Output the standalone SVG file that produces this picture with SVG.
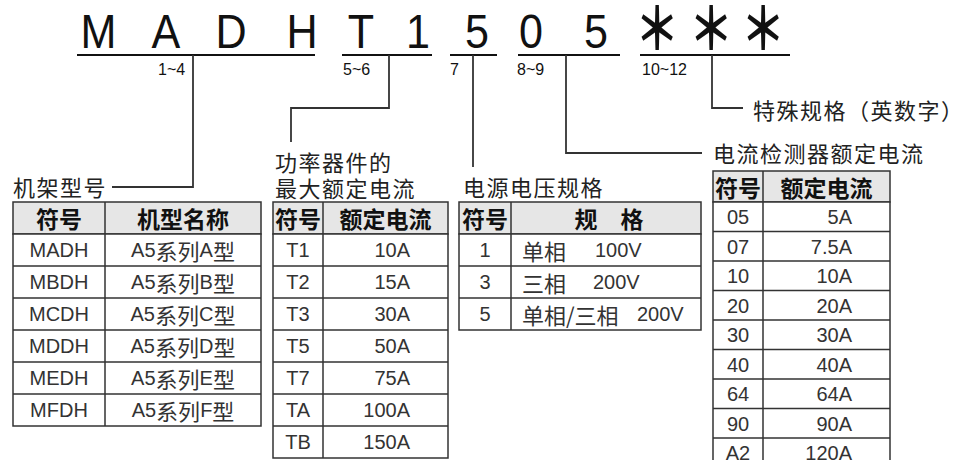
<svg xmlns="http://www.w3.org/2000/svg" width="958" height="460" viewBox="0 0 958 460">
<style>
.big{font-family:"Liberation Sans",Arial,sans-serif;font-size:49px;fill:#111;text-anchor:middle}
.ast{font-family:"Noto Sans CJK SC",sans-serif;font-size:52px;font-weight:bold;fill:#111;text-anchor:middle}
.pos{font-family:"Liberation Sans",Arial,sans-serif;font-size:16px;fill:#111}
.lbl{font-family:"Noto Sans CJK SC","Noto Sans",sans-serif;font-size:22px;letter-spacing:1.5px;fill:#222}
.ul{stroke:#111;stroke-width:2;fill:none}
.con{stroke:#333;stroke-width:1.8;fill:none}
.cell{fill:#fff;stroke:#333;stroke-width:1.5}
.hdr{fill:#e6e6e6;stroke:#333;stroke-width:1.5}
.ln{stroke:#333;stroke-width:1.5}
.th{font-family:"Noto Sans CJK SC",sans-serif;font-size:23px;font-weight:bold;fill:#111;text-anchor:middle;dominant-baseline:central}
.td{font-family:"Liberation Sans","Noto Sans CJK SC",sans-serif;font-size:20px;fill:#333;text-anchor:middle;dominant-baseline:central}
.tdr{font-family:"Liberation Sans","Noto Sans CJK SC",sans-serif;font-size:20px;fill:#333;text-anchor:end;dominant-baseline:central}
.tdl{font-family:"Liberation Sans","Noto Sans CJK SC",sans-serif;font-size:20px;fill:#333;dominant-baseline:central}
.cjk{font-family:"Noto Sans CJK SC",sans-serif;font-size:22px}
</style>

<g id="title">
<text class="big" transform="translate(98.5 48) scale(0.88 1)">M</text>
<text class="big" transform="translate(166 48) scale(0.88 1)">A</text>
<text class="big" transform="translate(231 48) scale(0.88 1)">D</text>
<text class="big" transform="translate(302 48) scale(0.88 1)">H</text>
<text class="big" transform="translate(361 48) scale(0.88 1)">T</text>
<text class="big" transform="translate(418 48) scale(0.88 1)">1</text>
<text class="big" transform="translate(477 48) scale(0.88 1)">5</text>
<text class="big" transform="translate(531 48) scale(0.88 1)">0</text>
<text class="big" transform="translate(596 48) scale(0.88 1)">5</text>
<text class="ast" transform="translate(657 49.5) scale(0.85 1.12)">＊</text>
<text class="ast" transform="translate(711 49.5) scale(0.85 1.12)">＊</text>
<text class="ast" transform="translate(763 49.5) scale(0.85 1.12)">＊</text>
<path class="ul" d="M77 55H315M342 55H432M450 55H497M518 55H620M640 55H790"/>
<text class="pos" x="158" y="75">1~4</text>
<text class="pos" x="343" y="75">5~6</text>
<text class="pos" x="450" y="75">7</text>
<text class="pos" x="517" y="75">8~9</text>
<text class="pos" x="642" y="75">10~12</text>
</g>

<g id="connectors">
<path class="con" d="M193 55V187H112"/>
<path class="con" d="M389 55V108H291V142"/>
<path class="con" d="M473 55V167"/>
<path class="con" d="M566 55V153H702"/>
<path class="con" d="M712 55V108H743"/>
</g>

<g id="label-frame"><text class="lbl" x="13" y="195.5">机架型号</text></g>
<g id="label-power"><text class="lbl" x="275" y="170.5">功率器件的</text><text class="lbl" x="275" y="196.5">最大额定电流</text></g>
<g id="label-voltage"><text class="lbl" x="463" y="195.5">电源电压规格</text></g>
<g id="label-sensor"><text class="lbl" x="713" y="161.5">电流检测器额定电流</text></g>
<g id="label-special"><text class="lbl" x="753" y="118.5">特殊规格（英数字）</text></g>

<g id="table-frame">
<rect class="hdr" x="13" y="202" width="248" height="32"/>
<rect class="cell" x="13" y="234" width="248" height="192"/>
<path class="ln" d="M105 202V426M13 266H261M13 298H261M13 330H261M13 362H261M13 394H261"/>
<text class="th" x="59" y="218">符号</text>
<text class="th" x="183" y="218">机型名称</text>
<text class="td" x="59" y="250">MADH</text><text class="td" x="183" y="250">A5<tspan class="cjk">系列</tspan>A<tspan class="cjk">型</tspan></text>
<text class="td" x="59" y="282">MBDH</text><text class="td" x="183" y="282">A5<tspan class="cjk">系列</tspan>B<tspan class="cjk">型</tspan></text>
<text class="td" x="59" y="314">MCDH</text><text class="td" x="183" y="314">A5<tspan class="cjk">系列</tspan>C<tspan class="cjk">型</tspan></text>
<text class="td" x="59" y="346">MDDH</text><text class="td" x="183" y="346">A5<tspan class="cjk">系列</tspan>D<tspan class="cjk">型</tspan></text>
<text class="td" x="59" y="378">MEDH</text><text class="td" x="183" y="378">A5<tspan class="cjk">系列</tspan>E<tspan class="cjk">型</tspan></text>
<text class="td" x="59" y="410">MFDH</text><text class="td" x="183" y="410">A5<tspan class="cjk">系列</tspan>F<tspan class="cjk">型</tspan></text>
</g>

<g id="table-power">
<rect class="hdr" x="273" y="202" width="175" height="32"/>
<rect class="cell" x="273" y="234" width="175" height="224"/>
<path class="ln" d="M323 202V458M273 266H448M273 298H448M273 330H448M273 362H448M273 394H448M273 426H448"/>
<text class="th" x="298" y="218">符号</text>
<text class="th" x="385.5" y="218">额定电流</text>
<text class="td" x="298" y="250">T1</text><text class="tdr" x="410" y="250">10A</text>
<text class="td" x="298" y="282">T2</text><text class="tdr" x="410" y="282">15A</text>
<text class="td" x="298" y="314">T3</text><text class="tdr" x="410" y="314">30A</text>
<text class="td" x="298" y="346">T5</text><text class="tdr" x="410" y="346">50A</text>
<text class="td" x="298" y="378">T7</text><text class="tdr" x="410" y="378">75A</text>
<text class="td" x="298" y="410">TA</text><text class="tdr" x="410" y="410">100A</text>
<text class="td" x="298" y="442">TB</text><text class="tdr" x="410" y="442">150A</text>
</g>

<g id="table-voltage">
<rect class="hdr" x="459" y="202" width="242" height="32"/>
<rect class="cell" x="459" y="234" width="242" height="96"/>
<path class="ln" d="M511 202V330M459 266H701M459 298H701"/>
<text class="th" x="485" y="218">符号</text>
<text class="th" x="609" y="218" style="white-space:pre">规　格</text>
<text class="td" x="485" y="250">1</text><text class="tdl" x="522" y="250"><tspan class="cjk">单相</tspan><tspan x="595">100V</tspan></text>
<text class="td" x="485" y="282">3</text><text class="tdl" x="522" y="282"><tspan class="cjk">三相</tspan><tspan x="593">200V</tspan></text>
<text class="td" x="485" y="314">5</text><text class="tdl" x="522" y="314"><tspan class="cjk">单相/三相</tspan><tspan x="637">200V</tspan></text>
</g>

<g id="table-sensor">
<rect class="hdr" x="713" y="171" width="177" height="31"/>
<rect class="cell" x="713" y="202" width="177" height="266"/>
<path class="ln" d="M763 171V468M713 231.5H890M713 261H890M713 290.5H890M713 320H890M713 349.5H890M713 379H890M713 408.5H890M713 438H890"/>
<text class="th" x="738" y="186.5">符号</text>
<text class="th" x="826.5" y="186.5">额定电流</text>
<text class="td" x="738" y="217">05</text><text class="tdr" x="852" y="217">5A</text>
<text class="td" x="738" y="246.5">07</text><text class="tdr" x="852" y="246.5">7.5A</text>
<text class="td" x="738" y="276">10</text><text class="tdr" x="852" y="276">10A</text>
<text class="td" x="738" y="305.5">20</text><text class="tdr" x="852" y="305.5">20A</text>
<text class="td" x="738" y="335">30</text><text class="tdr" x="852" y="335">30A</text>
<text class="td" x="738" y="364.5">40</text><text class="tdr" x="852" y="364.5">40A</text>
<text class="td" x="738" y="394">64</text><text class="tdr" x="852" y="394">64A</text>
<text class="td" x="738" y="423.5">90</text><text class="tdr" x="852" y="423.5">90A</text>
<text class="td" x="738" y="453">A2</text><text class="tdr" x="852" y="453">120A</text>
</g>
</svg>
